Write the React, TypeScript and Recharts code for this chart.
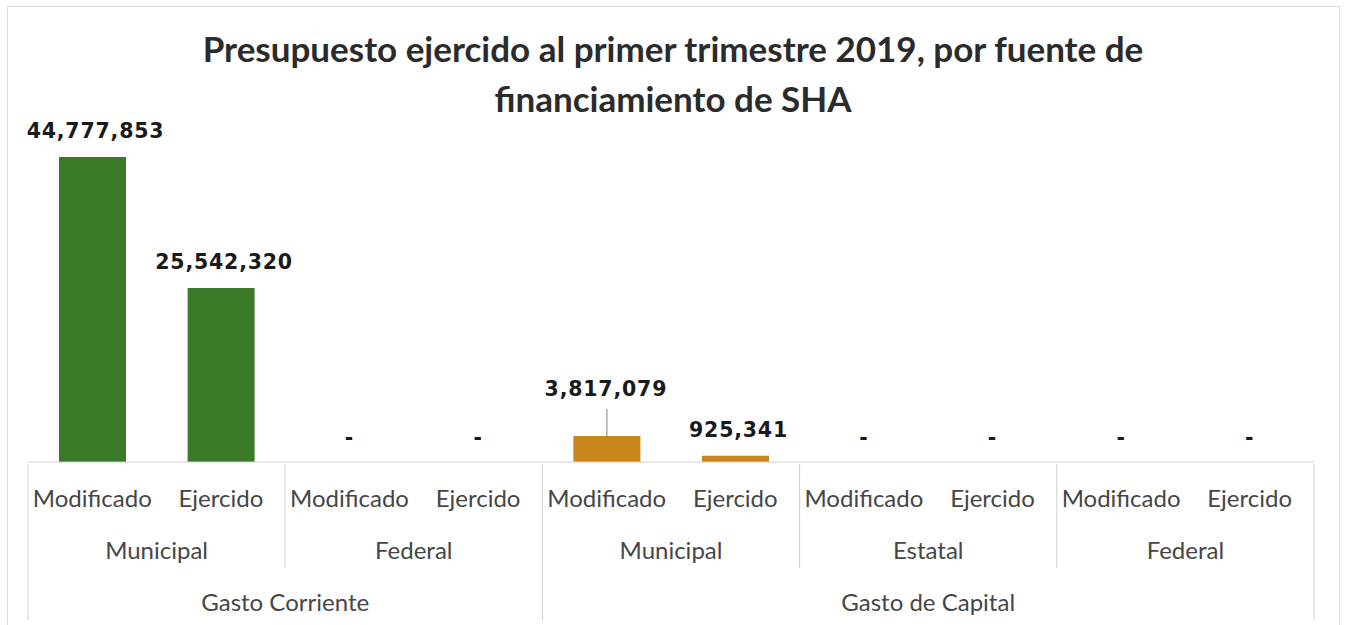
import { BarChart, Bar, XAxis, YAxis, Cell, LabelList } from "recharts";

const categorias = [
  "Modificado", "Ejercido", "Modificado", "Ejercido", "Modificado",
  "Ejercido", "Modificado", "Ejercido", "Modificado", "Ejercido",
];
const fuentes = [
  "Municipal", "Municipal", "Federal", "Federal", "Municipal",
  "Municipal", "Estatal", "Estatal", "Federal", "Federal",
];
const gastos = [
  "Gasto Corriente", "Gasto Corriente", "Gasto Corriente", "Gasto Corriente",
  "Gasto de Capital", "Gasto de Capital", "Gasto de Capital",
  "Gasto de Capital", "Gasto de Capital", "Gasto de Capital",
];
const montos = [44777853, 25542320, 0, 0, 3817079, 925341, 0, 0, 0, 0];

const colores: Record<string, string> = {
  "Gasto Corriente": "#3a7a29",
  "Gasto de Capital": "#c8861d",
};

const W = 1346;
const H = 625;
const MARGIN = { top: 157, right: 32, bottom: 0, left: 28 };
const AXIS_H = 163;
const BAND = (W - MARGIN.left - MARGIN.right) / categorias.length;

const data = categorias.map((tipo, i) => ({
  key: i,
  tipo,
  fuente: fuentes[i],
  gasto: gastos[i],
  monto: montos[i],
}));

const fmt = (v: number) => v.toLocaleString("en-US");

const labelStyle = {
  fontFamily: "'DejaVu Sans', sans-serif",
  fontWeight: 700,
  fontSize: 20.5,
  fill: "#1a1a1a",
  letterSpacing: 0.8,
};

function spanFrom(arr: string[], i: number, same: (j: number) => boolean) {
  let n = 0;
  while (i + n < arr.length && same(i + n)) n++;
  return n;
}

const AxisTick = (props: any) => {
  const { x, y, index } = props;
  const i = index as number;
  const left = x - BAND / 2;
  const font = { fontFamily: "Lato, 'Open Sans', sans-serif", fontSize: 24, fill: "#464646" };
  const newGasto = i === 0 || gastos[i] !== gastos[i - 1];
  const newFuente = newGasto || fuentes[i] !== fuentes[i - 1];
  const out: any[] = [];
  out.push(
    <text key="t1" x={x} y={y + 33} textAnchor="middle" dominantBaseline="central" {...font}>
      {categorias[i]}
    </text>
  );
  // zero values get an Excel-style "-" label above the axis
  if (!montos[i]) {
    out.push(
      <text key="z" x={x} y={y - 26} textAnchor="middle" dominantBaseline="central" {...labelStyle}>
        -
      </text>
    );
  }
  if (newFuente) {
    const n = spanFrom(fuentes, i, (j) => fuentes[j] === fuentes[i] && gastos[j] === gastos[i]);
    out.push(
      <text key="t2" x={left + (n * BAND) / 2} y={y + 85} textAnchor="middle" dominantBaseline="central" {...font}>
        {fuentes[i]}
      </text>
    );
    out.push(
      <line key="l2" x1={left} x2={left} y1={y} y2={y + (newGasto ? 156 : 104)} stroke="#cfcfcf" strokeWidth={1} />
    );
  }
  if (newGasto) {
    const m = spanFrom(gastos, i, (j) => gastos[j] === gastos[i]);
    out.push(
      <text key="t3" x={left + (m * BAND) / 2} y={y + 137} textAnchor="middle" dominantBaseline="central" {...font}>
        {gastos[i]}
      </text>
    );
  }
  if (i === categorias.length - 1) {
    out.push(
      <line key="lr" x1={left + BAND} x2={left + BAND} y1={y} y2={y + 156} stroke="#cfcfcf" strokeWidth={1} />
    );
  }
  return <g>{out}</g>;
};

const ValueLabel = (props: any) => {
  const { x, y, width, height, value } = props;
  if (!value) return null;
  const cx = x + width / 2;
  // short bars get their label lifted with a leader line
  if (height > 12 && height < 40) {
    return (
      <g>
        <line x1={cx} x2={cx} y1={y - 27} y2={y} stroke="#7f7f7f" strokeWidth={1} />
        <text x={cx - 1} y={y - 47} textAnchor="middle" dominantBaseline="central" {...labelStyle}>
          {fmt(value)}
        </text>
      </g>
    );
  }
  return (
    <text x={cx + 3} y={y - 26} textAnchor="middle" dominantBaseline="central" {...labelStyle}>
      {fmt(value)}
    </text>
  );
};

export default function App() {
  return (
    <div style={{ position: "absolute", left: 0, top: 0, width: W, height: H, background: "#fff" }}>
      <div
        style={{
          position: "absolute",
          left: 7,
          top: 6,
          width: 1331,
          height: H,
          borderTop: "1px solid #dcdcdc",
          borderLeft: "1px solid #dcdcdc",
          borderRight: "1px solid #dcdcdc",
        }}
      />
      <div
        style={{
          position: "absolute",
          left: 0,
          top: 23,
          width: W,
          textAlign: "center",
          fontFamily: "Lato, 'Open Sans', sans-serif",
          fontWeight: 700,
          fontSize: 35,
          lineHeight: "50px",
          color: "#2b2b2b",
        }}
      >
        Presupuesto ejercido al primer trimestre 2019, por fuente de
        <br />
        financiamiento de SHA
      </div>
      <div style={{ position: "absolute", left: 0, top: 0 }}>
        <BarChart width={W} height={H} data={data} margin={MARGIN} barSize={67}>
          <XAxis
            dataKey="key"
            height={AXIS_H}
            interval={0}
            tickLine={false}
            tickSize={0}
            axisLine={{ stroke: "#cfcfcf" }}
            tick={<AxisTick />}
          />
          <YAxis hide domain={[0, "dataMax"]} />
          <Bar dataKey="monto" isAnimationActive={false}>
            {data.map((d) => (
              <Cell key={d.key} fill={colores[d.gasto]} />
            ))}
            <LabelList dataKey="monto" content={<ValueLabel />} />
          </Bar>
        </BarChart>
      </div>
    </div>
  );
}
